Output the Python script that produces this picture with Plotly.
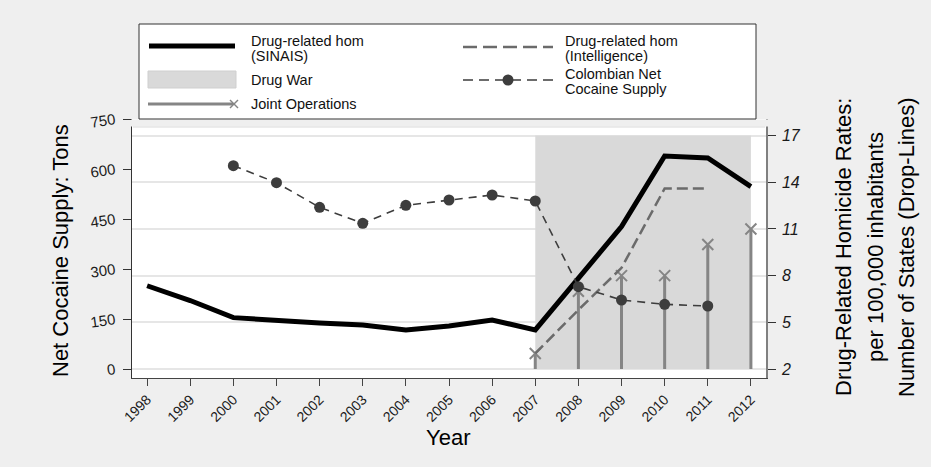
import plotly.graph_objects as go

# ---- data -------------------------------------------------------------
years = list(range(1998, 2013))
sinais_rate = [7.35, 6.40, 5.30, 5.10, 4.96, 4.83, 4.51, 4.76, 5.15, 4.51,
               7.85, 11.15, 15.69, 15.56, 13.72]

intel_years = [2007, 2008, 2009, 2010, 2011]
intel_rate = [3.0, 5.8, 8.5, 13.6, 13.6]

cocaine_years = list(range(2000, 2012))
cocaine_tons = [610, 559, 485, 437, 491, 507, 522, 504, 247, 207, 194, 189]

jointops_years = [2007, 2008, 2009, 2010, 2011, 2012]
jointops_states = [3, 7, 8, 8, 10, 11]

drug_war_years = [2007, 2012]

rate_ticks = [2, 5, 8, 11, 14, 17]
tons_ticks = [0, 150, 300, 450, 600, 750]

FONT = "Liberation Sans, Arial, sans-serif"
BG = "#efefef"

# ---- figure geometry (pixels) -----------------------------------------
W, H = 931, 467
L, R, T, B = 132, 165, 119, 89
PW, PH = W - L - R, H - T - B


def px_x(px):
    return (px - L) / PW


def px_y(py):
    return (H - B - py) / PH


fig = go.Figure()

# Drug War period shading (rate axis, from axis floor to top tick)
base, top = rate_ticks[0], rate_ticks[-1]
fig.add_trace(go.Scatter(
    x=[drug_war_years[0], drug_war_years[1], drug_war_years[1], drug_war_years[0]],
    y=[base, base, top, top],
    fill="toself", fillcolor="#d9d9d9", mode="none",
    hoverinfo="skip", yaxis="y", showlegend=False))

# Joint operations drop-lines
dx, dy = [], []
for yr, n in zip(jointops_years, jointops_states):
    dx += [yr, yr, None]
    dy += [base, n, None]
fig.add_trace(go.Scatter(x=dx, y=dy, mode="lines",
                         line=dict(color="#858585", width=3),
                         yaxis="y", showlegend=False, hoverinfo="skip"))
fig.add_trace(go.Scatter(x=jointops_years, y=jointops_states, mode="markers",
                         marker=dict(symbol="x-thin", size=11,
                                     line=dict(color="#858585", width=2)),
                         yaxis="y", showlegend=False))

# Drug-related homicides (intelligence)
fig.add_trace(go.Scatter(x=intel_years, y=intel_rate, mode="lines",
                         line=dict(color="#6b6b6b", width=2.5, dash="11px,5px"),
                         yaxis="y", showlegend=False))

# Drug-related homicides (SINAIS)
fig.add_trace(go.Scatter(x=years, y=sinais_rate, mode="lines",
                         line=dict(color="#000000", width=5),
                         yaxis="y", showlegend=False))

# Colombian net cocaine supply (tons axis)
fig.add_trace(go.Scatter(x=cocaine_years, y=cocaine_tons, mode="lines+markers",
                         line=dict(color="#3d3d3d", width=1.6, dash="8px,6px"),
                         marker=dict(symbol="circle", size=11, color="#3d3d3d"),
                         yaxis="y2", showlegend=False))

# ---- axes ---------------------------------------------------------------
tick_font = dict(family=FONT, size=15, color="#1a1a1a")
fig.update_layout(
    width=W, height=H, autosize=False,
    margin=dict(l=L, r=R, t=T, b=B, pad=0),
    paper_bgcolor=BG, plot_bgcolor="#ffffff",
    showlegend=False,
    xaxis=dict(range=[1997.65, 2012.35], tickvals=years,
               ticktext=[str(y) for y in years], tickangle=-45,
               ticks="outside", ticklen=7, tickcolor="#444", tickwidth=1,
               tickfont=dict(family=FONT, size=14, color="#1a1a1a"),
               showgrid=False, zeroline=False,
               showline=True, linecolor="#444", linewidth=1.2),
    yaxis=dict(side="right", range=[1.4216, 18.067], tickvals=rate_ticks,
               ticks="outside", ticklen=8, tickcolor="#333", tickwidth=1,
               tickfont=dict(family=FONT, size=16, color="#1a1a1a", style="italic"),
               ticklabelstandoff=3,
               showgrid=True, gridcolor="#e6e6e6", gridwidth=1.5,
               zeroline=False, showline=True, linecolor="#808080", linewidth=1.5),
    yaxis2=dict(side="left", overlaying="y", anchor="x",
                range=[-27, 750], tickvals=tons_ticks, tickangle=-8,
                ticks="outside", ticklen=8, tickcolor="#333", tickwidth=1,
                tickfont=tick_font, ticklabelstandoff=5,
                showgrid=False, zeroline=False,
                showline=True, linecolor="#333", linewidth=1.2),
)

# ---- shapes: band above plot, legend box and keys ------------------------
shapes = []
# strip between legend and plot frame keeps page background
shapes.append(dict(type="rect", xref="paper", yref="paper", layer="above",
                   x0=px_x(131), x1=px_x(769), y0=px_y(126.5), y1=px_y(119.5),
                   fillcolor=BG, line=dict(width=0)))
shapes.append(dict(type="line", xref="paper", yref="paper", layer="above",
                   x0=px_x(133), x1=px_x(765), y0=px_y(127), y1=px_y(127),
                   line=dict(color="#dadada", width=1)))
# legend frame
shapes.append(dict(type="rect", xref="paper", yref="paper", layer="above",
                   x0=px_x(139), x1=px_x(756), y0=px_y(119), y1=px_y(24),
                   fillcolor="#ffffff", line=dict(color="#333333", width=1)))
# SINAIS key
shapes.append(dict(type="line", xref="paper", yref="paper", layer="above",
                   x0=px_x(149), x1=px_x(235), y0=px_y(46), y1=px_y(46),
                   line=dict(color="#000000", width=5)))
# Drug War key
shapes.append(dict(type="rect", xref="paper", yref="paper", layer="above",
                   x0=px_x(148), x1=px_x(236), y0=px_y(88), y1=px_y(71),
                   fillcolor="#d9d9d9", line=dict(color="#cfcfcf", width=1)))
# Joint operations key
shapes.append(dict(type="line", xref="paper", yref="paper", layer="above",
                   x0=px_x(148), x1=px_x(233), y0=px_y(104), y1=px_y(104),
                   line=dict(color="#858585", width=3)))
for a, b in [((230, 100), (238, 108)), ((230, 108), (238, 100))]:
    shapes.append(dict(type="line", xref="paper", yref="paper", layer="above",
                       x0=px_x(a[0]), y0=px_y(a[1]), x1=px_x(b[0]), y1=px_y(b[1]),
                       line=dict(color="#858585", width=1.5)))
# Intelligence key
shapes.append(dict(type="line", xref="paper", yref="paper", layer="above",
                   x0=px_x(463), x1=px_x(553), y0=px_y(47), y1=px_y(47),
                   line=dict(color="#6b6b6b", width=2.5, dash="14px,6px")))
# Cocaine supply key
shapes.append(dict(type="line", xref="paper", yref="paper", layer="above",
                   x0=px_x(463), x1=px_x(553), y0=px_y(80), y1=px_y(80),
                   line=dict(color="#3d3d3d", width=1.6, dash="10px,6px")))
shapes.append(dict(type="circle", xref="paper", yref="paper", layer="above",
                   x0=px_x(502.5), x1=px_x(513.5), y0=px_y(85.5), y1=px_y(74.5),
                   fillcolor="#3d3d3d", line=dict(color="#3d3d3d", width=0)))
fig.update_layout(shapes=shapes)

# ---- text ------------------------------------------------------------------
ann = []
legend_font = dict(family=FONT, size=14.5, color="#111111")
for text, x, y in [("Drug-related hom", 249, 40.5), ("(SINAIS)", 249, 56.5),
                   ("Drug War", 249, 80), ("Joint Operations", 249, 104),
                   ("Drug-related hom", 563, 40.5), ("(Intelligence)", 563, 56.5),
                   ("Colombian Net", 563, 73.5), ("Cocaine Supply", 563, 89.5)]:
    ann.append(dict(text=text, x=px_x(x), y=px_y(y), xref="paper", yref="paper",
                    xanchor="left", yanchor="middle", showarrow=False,
                    font=legend_font))

title_font = dict(family=FONT, size=22, color="#000000")
ann.append(dict(text="Net Cocaine Supply: Tons", x=px_x(60), y=px_y(251),
                xref="paper", yref="paper", textangle=-90, showarrow=False,
                xanchor="center", yanchor="middle", font=title_font))
ann.append(dict(text="Year", x=px_x(448), y=px_y(437), xref="paper", yref="paper",
                showarrow=False, xanchor="center", yanchor="middle",
                font=title_font))
for text, x in [("Drug-Related Homicide Rates:", 843),
                ("per 100,000 inhabitants", 875),
                ("Number of States (Drop-Lines)", 906)]:
    ann.append(dict(text=text, x=px_x(x), y=px_y(247), xref="paper", yref="paper",
                    textangle=-90, showarrow=False, xanchor="center",
                    yanchor="middle", font=title_font))
fig.update_layout(annotations=ann)

fig.write_html("out.html")
